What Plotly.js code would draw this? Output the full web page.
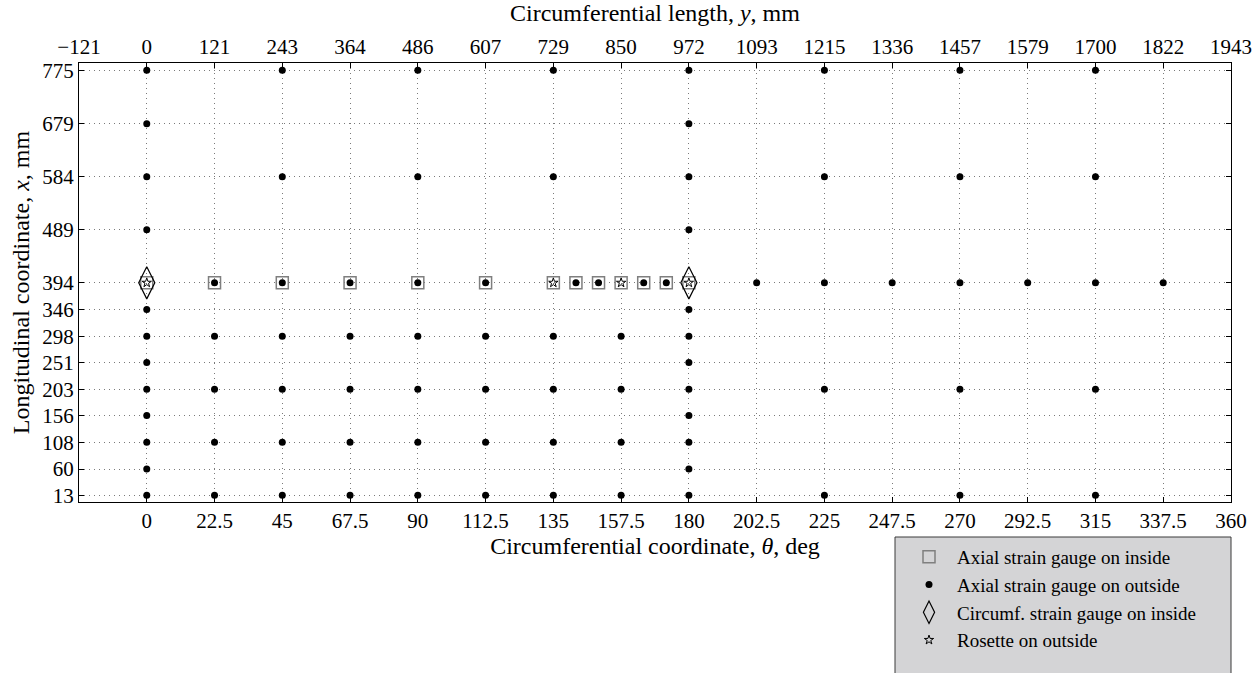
<!DOCTYPE html>
<html>
<head>
<meta charset="utf-8">
<script src="https://cdn.plot.ly/plotly-3.0.1.min.js"></script>
<style>html,body{margin:0;padding:0;background:#fff;} #chart{width:1260px;height:673px;}</style>
</head>
<body>
<div id="chart"></div>
<script>
// ---- Data ----
// Bottom axis: circumferential coordinate theta (deg); top axis labels: circumferential length y (mm)
const thetaTicks = [-22.5, 0, 22.5, 45, 67.5, 90, 112.5, 135, 157.5, 180, 202.5, 225, 247.5, 270, 292.5, 315, 337.5, 360];
const thetaTickText = ['', '0', '22.5', '45', '67.5', '90', '112.5', '135', '157.5', '180', '202.5', '225', '247.5', '270', '292.5', '315', '337.5', '360'];
const lengthTickText = ['\u2212121', '0', '121', '243', '364', '486', '607', '729', '850', '972', '1093', '1215', '1336', '1457', '1579', '1700', '1822', '1943'];
// Left axis: longitudinal coordinate x (mm)
const xTicks = [13, 60, 108, 156, 203, 251, 298, 346, 394, 489, 584, 679, 775];

// Axial strain gauges on outside: one column per theta
const outsideTheta = [0, 22.5, 45, 67.5, 90, 112.5, 135, 142.5, 150, 157.5, 165, 172.5, 180, 202.5, 225, 247.5, 270, 292.5, 315, 337.5];
const outsideX = [
  [13, 60, 108, 156, 203, 251, 298, 346, 489, 584, 679, 775],
  [13, 108, 203, 298, 394],
  [13, 108, 203, 298, 394, 584, 775],
  [13, 108, 203, 298, 394],
  [13, 108, 203, 298, 394, 584, 775],
  [13, 108, 203, 298, 394],
  [13, 108, 203, 298, 584, 775],
  [394],
  [394],
  [13, 108, 203, 298],
  [394],
  [394],
  [13, 60, 108, 156, 203, 251, 298, 346, 489, 584, 679, 775],
  [394],
  [13, 203, 394, 584, 775],
  [394],
  [13, 203, 394, 584, 775],
  [394],
  [13, 203, 394, 584, 775],
  [394]
];

// Axial strain gauges on inside
const insideTheta = [0, 22.5, 45, 67.5, 90, 112.5, 135, 142.5, 150, 157.5, 165, 172.5, 180];
const insideX = [394, 394, 394, 394, 394, 394, 394, 394, 394, 394, 394, 394, 394];

// Circumferential strain gauges on inside
const circTheta = [0, 180];
const circX = [394, 394];

// Rosettes on outside
const rosetteTheta = [0, 135, 157.5, 180];
const rosetteX = [394, 394, 394, 394];

// ---- Build traces ----
const outTh = [], outX = [];
outsideTheta.forEach((t, i) => outsideX[i].forEach(v => { outTh.push(t); outX.push(v); }));

const serif = 'Liberation Serif, Times New Roman, serif';

const traces = [
  {
    type: 'scatter', mode: 'markers', name: 'Axial strain gauge on inside',
    x: insideTheta, y: insideX,
    marker: {symbol: 'square-open', size: 12, color: '#7f7f7f', line: {color: '#7f7f7f', width: 1.5}}
  },
  {
    type: 'scatter', mode: 'markers', name: 'Axial strain gauge on outside',
    x: outTh, y: outX,
    marker: {symbol: 'circle', size: 7, color: '#000'}
  },
  {
    type: 'scatter', mode: 'markers', name: 'Circumf. strain gauge on inside',
    x: circTheta, y: circX,
    marker: {symbol: 'diamond-tall-open', size: 23, color: '#000', line: {color: '#000', width: 1.2}}
  },
  {
    type: 'scatter', mode: 'markers', name: 'Rosette on outside',
    x: rosetteTheta, y: rosetteX,
    marker: {symbol: 'star-open', size: 7, color: '#000', line: {color: '#000', width: 1}}
  },
  {
    type: 'scatter', mode: 'markers', x: [], y: [], xaxis: 'x2', showlegend: false, hoverinfo: 'skip'
  }
];

const L = 79, R = 29, T = 63, B = 171, W = 1260, H = 673;
const pw = W - L - R, ph = H - T - B;
const px = v => (v - L) / pw;
const py = v => (H - B - v) / ph;

const gridDots = '1px,4px';
const tickFont = {family: serif, size: 21, color: '#000'};
const titleFont = {family: serif, size: 24, color: '#000'};

const layout = {
  width: W, height: H,
  margin: {l: L, r: R, t: T, b: B, autoexpand: false},
  paper_bgcolor: '#fff', plot_bgcolor: '#fff',
  font: {family: serif, size: 21, color: '#000'},
  showlegend: true,
  xaxis: {
    range: [-22.5, 360], tickmode: 'array', tickvals: thetaTicks, ticktext: thetaTickText,
    ticks: 'inside', ticklen: 5, tickcolor: '#000', tickwidth: 1,
    showline: true, linecolor: '#000', linewidth: 1,
    showgrid: true, gridcolor: '#7a7a7a', griddash: gridDots, gridwidth: 1,
    zeroline: false, tickfont: tickFont,
    title: {text: 'Circumferential coordinate, <i>θ</i>, deg', font: titleFont, standoff: 0}
  },
  xaxis2: {
    overlaying: 'x', side: 'top', anchor: 'y',
    range: [-22.5, 360], tickmode: 'array', tickvals: thetaTicks, ticktext: lengthTickText,
    ticks: 'inside', ticklen: 5, tickcolor: '#000', tickwidth: 1,
    showline: true, linecolor: '#000', linewidth: 1,
    showgrid: false, zeroline: false, tickfont: tickFont,
    title: {text: 'Circumferential length, <i>y</i>, mm', font: titleFont, standoff: 8}
  },
  yaxis: {
    range: [1, 788], tickmode: 'array', tickvals: xTicks,
    ticks: 'inside', ticklen: 5, tickcolor: '#000', tickwidth: 1,
    showline: true, linecolor: '#000', linewidth: 1, mirror: 'ticks',
    showgrid: true, gridcolor: '#7a7a7a', griddash: gridDots, gridwidth: 1,
    zeroline: false, tickfont: tickFont,
    title: {text: 'Longitudinal coordinate, <i>x</i>, mm', font: titleFont, standoff: 5}
  },
  legend: {
    x: px(901), xanchor: 'left', y: py(538), yanchor: 'top',
    bgcolor: 'rgba(0,0,0,0)', borderwidth: 0, itemwidth: 46,
    font: {family: serif, size: 19, color: '#000'}
  },
  shapes: [{
    type: 'rect', xref: 'paper', yref: 'paper',
    x0: px(895), x1: px(1231), y0: py(537), y1: py(690),
    fillcolor: '#d4d4d6', line: {color: '#3a3a3a', width: 1}, layer: 'above'
  }]
};

Plotly.newPlot('chart', traces, layout, {displayModeBar: false, staticPlot: true});
</script>
</body>
</html>
